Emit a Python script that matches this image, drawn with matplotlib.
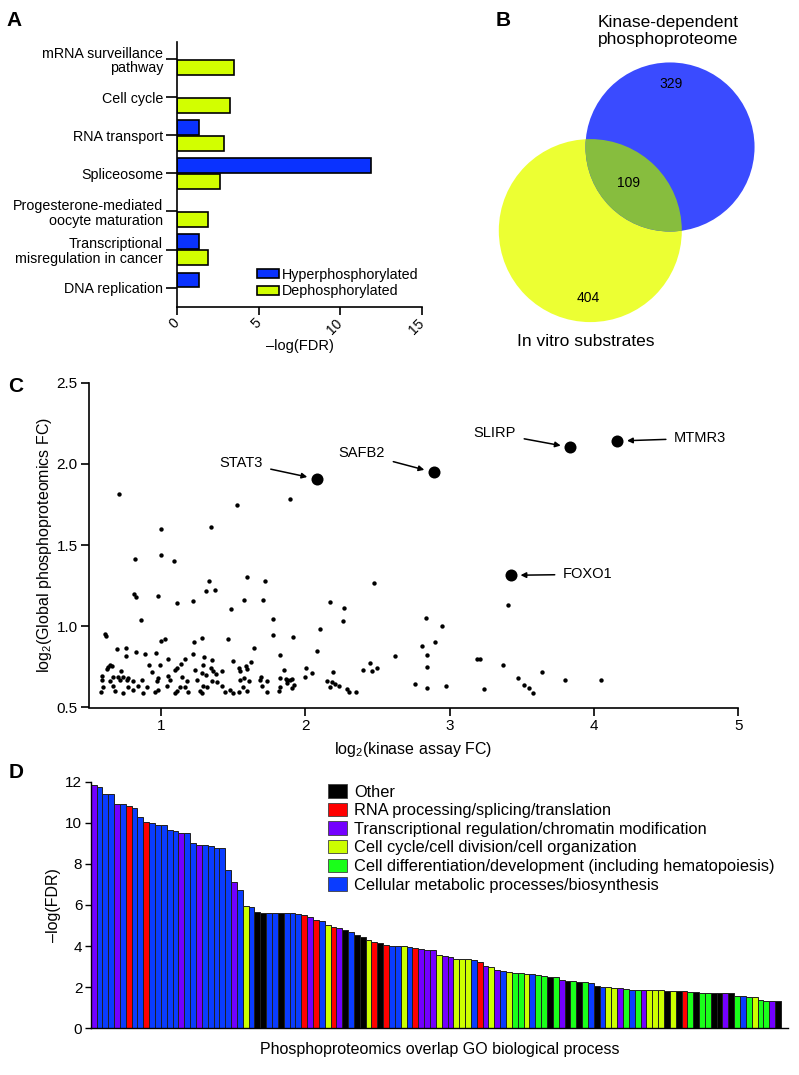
import numpy as np
import matplotlib
matplotlib.use("Agg")
import matplotlib.pyplot as plt
from matplotlib.patches import Circle, Patch

plt.rcParams['font.family'] = ['Liberation Sans', 'DejaVu Sans']
plt.rcParams['mathtext.default'] = 'regular'

# ---- data ----
# A: KEGG pathways
pathways = ['mRNA surveillance\npathway', 'Cell cycle', 'RNA transport', 'Spliceosome',
            'Progesterone-mediated\noocyte maturation', 'Transcriptional\nmisregulation in cancer',
            'DNA replication']
hyper = [0, 0, 1.35, 11.9, 0, 1.35, 1.35]
dephos = [3.5, 3.25, 2.9, 2.65, 1.92, 1.92, 0]

# B: venn counts
only_kinase = 329
overlap = 109
only_vitro = 404

# C: scatter
sx = [0.71, 1.53, 1.896, 1.004, 1.35, 0.819, 0.999, 1.09, 1.336, 1.598, 1.722, 2.476, 0.816, 0.828,
      0.978, 1.316, 1.378, 1.112, 1.221, 1.485, 1.579, 1.709, 2.169, 2.266, 3.406,
      2.839, 2.945, 2.897, 2.807, 2.624, 2.841, 2.846, 3.19, 3.21, 3.371, 3.637, 3.475, 3.798, 4.046,
      0.863, 2.259, 0.615, 0.62, 1.776, 1.78, 2.102, 1.001, 1.031, 1.232, 1.288, 1.468, 1.912, 0.694,
      0.759, 0.757, 0.826, 0.893, 0.965, 1.225, 1.297, 1.05, 1.166, 1.646, 1.827, 2.083, 2.446, 2.40,
      2.46, 2.50, 2.19, 2.005, 2.05, 0.648, 0.636, 0.66, 0.625, 0.592, 0.726, 0.916, 0.939, 0.997,
      1.048, 1.101, 1.114, 1.138, 1.149, 1.235, 1.29, 1.288, 1.313, 1.346, 1.357, 1.364, 1.383, 1.424,
      1.50, 1.538, 1.545, 1.589, 1.60, 1.626, 1.575, 1.695, 1.85, 1.825, 1.87, 1.91, 2.0, 0.978, 0.77,
      0.74, 0.70, 0.67,
      1.896, 1.919, 1.908, 1.877, 2.15, 2.169, 2.185, 2.208, 2.231, 2.289, 2.30, 2.354, 2.763, 2.844,
      2.976, 3.241, 3.514, 3.548, 3.576,
      0.585, 0.683, 0.74, 0.809, 0.879, 0.96, 0.983, 1.098, 1.11, 1.19, 1.272, 1.284, 1.445, 1.48,
      1.503, 1.538, 1.595, 1.734, 1.815,
      0.601, 0.671, 0.775, 0.844, 0.902, 1.041, 1.133, 1.168, 1.295, 1.318, 1.422, 1.572, 1.70, 1.827,
      0.59, 0.648, 0.717, 0.764, 0.809, 0.868, 0.972, 1.064, 1.18, 1.249, 1.353, 1.388, 1.549, 1.607,
      1.688, 1.734, 1.873]
sy = [1.815, 1.749, 1.786, 1.601, 1.61, 1.414, 1.441, 1.402, 1.281, 1.304, 1.277, 1.265, 1.199, 1.182,
      1.188, 1.215, 1.225, 1.145, 1.154, 1.108, 1.16, 1.162, 1.15, 1.113, 1.131,
      1.051, 1.004, 0.901, 0.881, 0.815, 0.821, 0.748, 0.80, 0.80, 0.76, 0.717, 0.68, 0.668, 0.672,
      1.039, 1.035, 0.951, 0.942, 1.045, 0.945, 0.985, 0.909, 0.92, 0.901, 0.928, 0.924, 0.936, 0.858,
      0.864, 0.817, 0.844, 0.831, 0.836, 0.83, 0.813, 0.80, 0.80, 0.866, 0.821, 0.848, 0.776, 0.731,
      0.725, 0.745, 0.72, 0.745, 0.71, 0.762, 0.748, 0.755, 0.735, 0.696, 0.727, 0.76, 0.719, 0.764,
      0.694, 0.731, 0.745, 0.77, 0.69, 0.731, 0.764, 0.712, 0.70, 0.743, 0.79, 0.723, 0.708, 0.727,
      0.788, 0.741, 0.723, 0.756, 0.735, 0.778, 0.684, 0.688, 0.731, 0.682, 0.678, 0.678, 0.69, 0.684, 0.684,
      0.686, 0.688, 0.688,
      0.669, 0.639, 0.618, 0.649, 0.665, 0.628, 0.659, 0.645, 0.632, 0.614, 0.597, 0.594, 0.643, 0.618,
      0.634, 0.614, 0.639, 0.618, 0.591,
      0.595, 0.6, 0.59, 0.605, 0.592, 0.598, 0.607, 0.59, 0.603, 0.596, 0.6, 0.592, 0.598, 0.605,
      0.59, 0.596, 0.602, 0.594, 0.6,
      0.628, 0.63, 0.625, 0.633, 0.627, 0.631, 0.624, 0.629, 0.632, 0.626, 0.63, 0.628, 0.633, 0.625,
      0.669, 0.665, 0.672, 0.667, 0.661, 0.67, 0.664, 0.668, 0.662, 0.671, 0.666, 0.66, 0.668, 0.664,
      0.67, 0.663, 0.667]
hits = ['STAT3', 'SAFB2', 'SLIRP', 'MTMR3', 'FOXO1']
hit_x = [2.08, 2.89, 3.836, 4.162, 3.424]
hit_y = [1.907, 1.948, 2.102, 2.141, 1.314]

# D: GO processes
go_cats = ['Other', 'RNA processing/splicing/translation', 'Transcriptional regulation/chromatin modification',
           'Cell cycle/cell division/cell organization',
           'Cell differentiation/development (including hematopoiesis)',
           'Cellular metabolic processes/biosynthesis']
go_codes = list('PBBBPBRBBRBBBBBPBBPBBBBBPBYBKKBBKBBBRPRBYRPKBKKYRKRBBYBRPPPYPPYYYBRPYPBYGGYBGGKGPKGKGBKBYYPGBGPYYYKYKRGKGGKKPKGBGYGGPK')
go_vals = [11.85, 11.75, 11.4, 11.4, 10.92, 10.92, 10.8, 10.72, 10.3, 10.05, 9.97, 9.88, 9.88, 9.65,
           9.58, 9.5, 9.48, 9.03, 8.9, 8.9, 8.85, 8.75, 8.75, 7.68, 7.12, 6.72, 5.97, 5.92, 5.67, 5.6,
           5.6, 5.6, 5.6, 5.6, 5.6, 5.58, 5.52, 5.4, 5.25, 5.2, 5.05, 4.92, 4.87, 4.8, 4.67, 4.56, 4.44,
           4.3, 4.22, 4.15, 4.04, 4.02, 4.02, 4.0, 3.98, 3.91, 3.87, 3.8, 3.8, 3.55, 3.52, 3.45, 3.37,
           3.36, 3.36, 3.34, 3.24, 3.02, 2.97, 2.85, 2.8, 2.75, 2.69, 2.69, 2.66, 2.63, 2.58, 2.53, 2.51,
           2.48, 2.37, 2.3, 2.28, 2.27, 2.25, 2.19, 2.06, 2.01, 2.0, 1.96, 1.95, 1.9, 1.88, 1.88, 1.86,
           1.85, 1.85, 1.85, 1.83, 1.83, 1.81, 1.8, 1.75, 1.75, 1.7, 1.7, 1.7, 1.7, 1.7, 1.7, 1.57, 1.55,
           1.54, 1.54, 1.36, 1.33, 1.31, 1.31]
code_color = {'K': '#000000', 'R': '#ff0000', 'P': '#7300ff', 'Y': '#ccff00', 'G': '#1aff1a', 'B': '#0a3cff'}
cat_codes = ['K', 'R', 'P', 'Y', 'G', 'B']

W, H = 799, 1075
fig = plt.figure(figsize=(W / 100, H / 100), dpi=100)


def box(x0, y0, x1, y1):
    # pixel box -> figure fraction rect
    return [x0 / W, 1 - y1 / H, (x1 - x0) / W, (y1 - y0) / H]


# ---------- A ----------
ax = fig.add_axes(box(177, 41.7, 422, 307))
yy = np.arange(len(pathways))
hv = np.array(hyper)
dv = np.array(dephos)
m1 = hv > 0
m2 = dv > 0
ax.barh(yy[m1] - 0.2, hv[m1], height=0.39, color='#0a32ff', edgecolor='black', lw=1.2,
        label='Hyperphosphorylated')
ax.barh(yy[m2] + 0.21, dv[m2], height=0.39, color='#d2ff00', edgecolor='black', lw=1.2,
        label='Dephosphorylated')
ax.set_ylim(6.51, -0.46)
ax.set_xlim(0, 15)
ax.set_yticks(yy)
ax.set_yticklabels(pathways, fontsize=10.3, linespacing=1.05)
ax.set_xticks([0, 5, 10, 15])
ax.set_xticklabels(['0', '5', '10', '15'], rotation=45, ha='right', va='center',
                   rotation_mode='anchor', fontsize=10)
ax.tick_params(axis='y', length=8, width=1.2, pad=2)
ax.tick_params(axis='x', length=6, width=1.2, pad=4)
for s in ['top', 'right']:
    ax.spines[s].set_visible(False)
for s in ['left', 'bottom']:
    ax.spines[s].set_linewidth(1.2)
ax.set_xlabel('\u2013log(FDR)', fontsize=10.5, labelpad=2)
ax.legend(loc='lower right', bbox_to_anchor=(1.02, 0.0), frameon=False, fontsize=10.3,
          handlelength=1.5, handleheight=0.55, handletextpad=0.2, labelspacing=0.2,
          borderaxespad=0.2)

# ---------- B ----------
axb = fig.add_axes(box(440, 0, 799, 345))
axb.set_xlim(440, 799)
axb.set_ylim(345, 0)
axb.axis('off')
k = 4.04
r_kin = k * np.sqrt(only_kinase + overlap)
r_vit = k * np.sqrt(only_vitro + overlap)
c_kin = (670, 147)
c_vit = (590.3, 230.6)
yel = Circle(c_vit, r_vit, color='#ecff33', lw=0)
blu = Circle(c_kin, r_kin, color='#3a4bff', lw=0)
axb.add_patch(yel)
axb.add_patch(blu)
grn = Circle(c_kin, r_kin, color='#87bd3e', lw=0)
axb.add_patch(grn)
grn.set_clip_path(yel)
axb.text(671.5, 84, str(only_kinase), ha='center', va='center', fontsize=10)
axb.text(629, 183, str(overlap), ha='center', va='center', fontsize=10)
axb.text(588.5, 298, str(only_vitro), ha='center', va='center', fontsize=10)
axb.text(668, 31, 'Kinase-dependent\nphosphoproteome', ha='center', va='center', fontsize=12.5,
         linespacing=1.15)
axb.text(586, 342, 'In vitro substrates', ha='center', va='center', fontsize=12.5)

# ---------- C ----------
axc = fig.add_axes(box(88.7, 382.7, 738.3, 707.5))
axc.scatter(sx, sy, s=10, color='black', lw=0)
axc.scatter(hit_x, hit_y, s=75, color='black', lw=0)
label_pos = [(1.554, 2.007), (2.393, 2.065), (3.313, 2.188), (4.737, 2.158), (3.958, 1.32)]
for name, px, py, (lx, ly) in zip(hits, hit_x, hit_y, label_pos):
    axc.annotate(name, xy=(px, py), xytext=(lx, ly), ha='center', va='center', fontsize=10.5,
                 arrowprops=dict(arrowstyle='-|>', color='black', lw=1.1, shrinkA=4, shrinkB=7,
                                 mutation_scale=8))
axc.set_xlim(0.5, 5)
axc.set_ylim(0.5, 2.5)
axc.set_xticks([1, 2, 3, 4, 5])
axc.set_yticks([0.5, 1.0, 1.5, 2.0, 2.5])
axc.set_yticklabels(['0.5', '1.0', '1.5', '2.0', '2.5'])
axc.tick_params(labelsize=11, length=6, width=1.2, pad=2)
for s in ['top', 'right']:
    axc.spines[s].set_visible(False)
for s in ['left', 'bottom']:
    axc.spines[s].set_linewidth(1.2)
axc.set_xlabel('log$_2$(kinase assay FC)', fontsize=11.5, labelpad=5)
axc.set_ylabel('log$_2$(Global phosphoproteomics FC)', fontsize=11.5, labelpad=2)

# ---------- D ----------
axd = fig.add_axes(box(90.7, 781.7, 788, 1028.3))
xs = np.arange(len(go_vals))
axd.bar(xs, go_vals, width=1.0, color=[code_color[c] for c in go_codes],
        edgecolor='#202020', lw=0.7, align='center')
axd.set_xlim(-0.5, len(go_vals) + 0.7)
axd.set_ylim(0, 12)
axd.set_yticks([0, 2, 4, 6, 8, 10, 12])
axd.set_xticks([])
axd.tick_params(labelsize=11, length=4, width=1.0, pad=2)
for s in ['top', 'right']:
    axd.spines[s].set_visible(False)
for s in ['left', 'bottom']:
    axd.spines[s].set_linewidth(1.0)
axd.set_ylabel('\u2013log(FDR)', fontsize=11.5, labelpad=3)
axd.set_xlabel('Phosphoproteomics overlap GO biological process', fontsize=11.5, labelpad=10)
handles = [Patch(facecolor=code_color[c], edgecolor='#404040', lw=0.6) for c in cat_codes]
axd.legend(handles, go_cats, loc='upper left', bbox_to_anchor=(0.340, 0.99), frameon=False,
           fontsize=11.8, handlelength=1.2, handleheight=0.88, handletextpad=0.42,
           labelspacing=0.2, borderaxespad=0.0, borderpad=0.0)

# panel letters
for letter, x, y in [('A', 14, 20), ('B', 503, 20), ('C', 16, 386), ('D', 16, 772)]:
    fig.text(x / W, 1 - y / H, letter, fontsize=15, fontweight='bold', ha='center', va='center')

fig.savefig('out.png', dpi=100)
